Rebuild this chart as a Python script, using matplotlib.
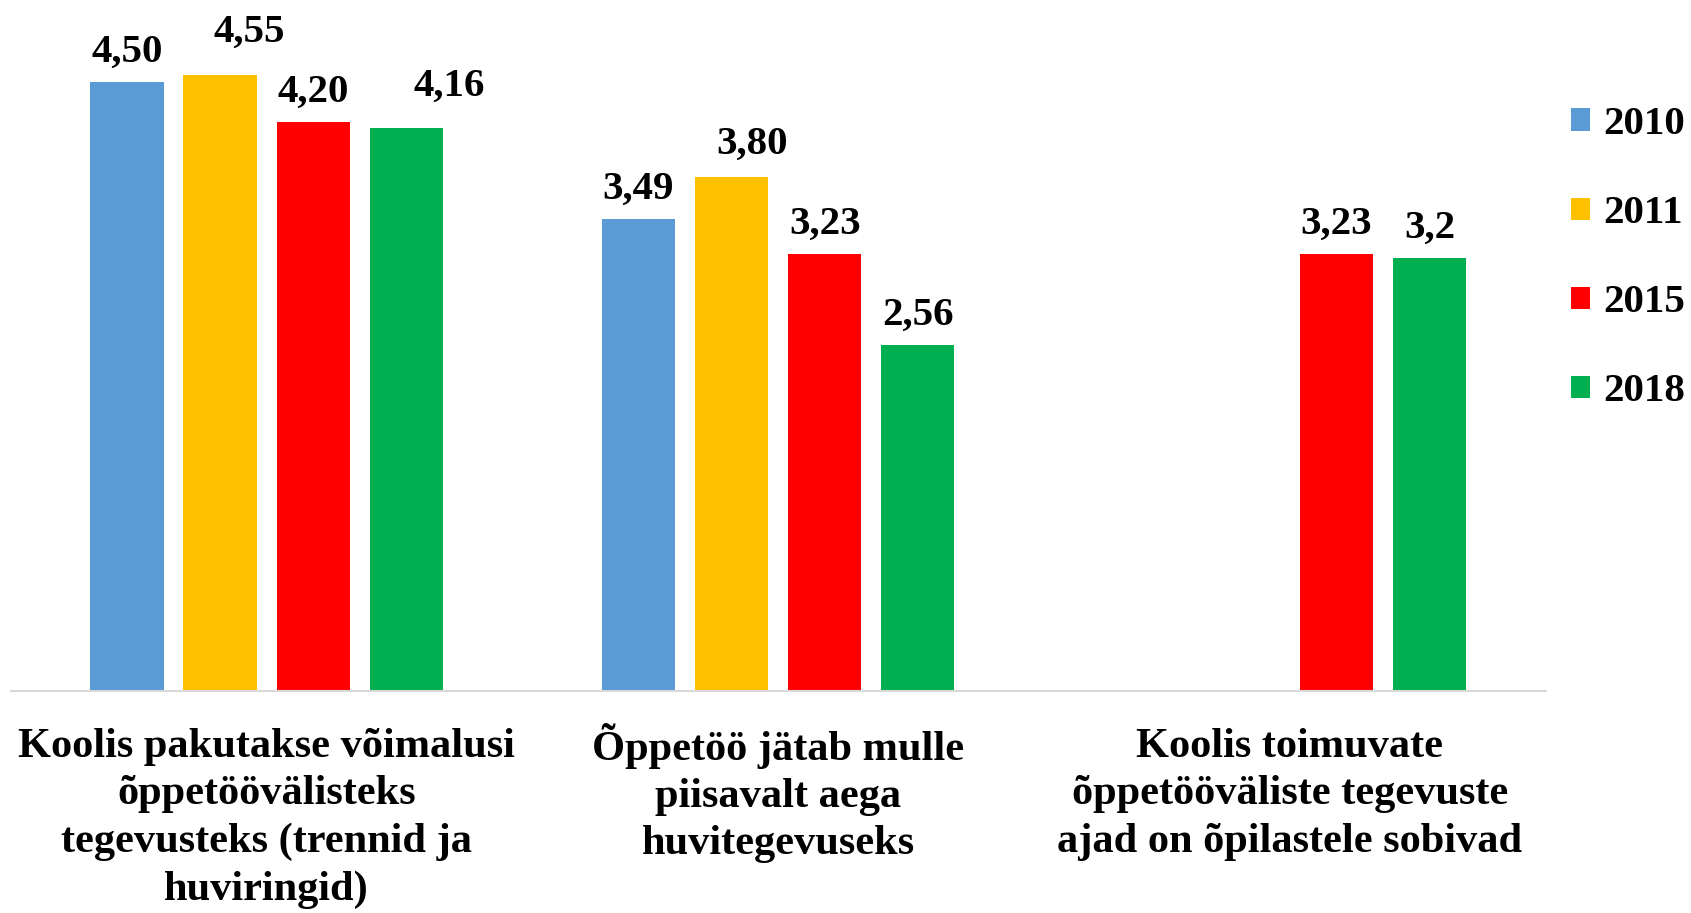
import matplotlib
matplotlib.use('Agg')
import matplotlib.pyplot as plt
import matplotlib.transforms as mtransforms
import numpy as np

plt.rcParams['font.family'] = 'Liberation Serif'
plt.rcParams['font.weight'] = 'bold'

categories = ['Koolis pakutakse võimalusi\nõppetöövälisteks\ntegevusteks (trennid ja\nhuviringid)',
              'Õppetöö jätab mulle\npiisavalt aega\nhuvitegevuseks',
              'Koolis toimuvate\nõppetööväliste tegevuste\najad on õpilastele sobivad']
years = ['2010', '2011', '2015', '2018']
v2010 = [4.50, 3.49, None]
v2011 = [4.55, 3.80, None]
v2015 = [4.20, 3.23, 3.23]
v2018 = [4.16, 2.56, 3.2]
labels2010 = ['4,50', '3,49', '']
labels2011 = ['4,55', '3,80', '']
labels2015 = ['4,20', '3,23', '3,23']
labels2018 = ['4,16', '2,56', '3,2']
colors = ['#5B9BD5', '#FFC000', '#FF0000', '#00B050']

series = [v2010, v2011, v2015, v2018]
labels = [labels2010, labels2011, labels2015, labels2018]
# labels that were dragged by hand in the original (offset in points)
moved = {(1, 0): (21, 9), (3, 0): (31, 8.5), (1, 1): (15, 2)}

fig = plt.figure(figsize=(16.91, 9.13), dpi=100)
ax = fig.add_axes([0.0064, 0.2428, 0.9076, 0.7419])

x = np.arange(len(categories))
w = 0.143
step = 0.182
fs = 29.5
for i, (vals, c, y) in enumerate(zip(series, colors, years)):
    idx = [j for j, v in enumerate(vals) if v is not None]
    xs = [x[j] + (i - 1.5) * step for j in idx]
    hs = [vals[j] for j in idx]
    bars = ax.bar(xs, hs, width=w, color=c, label=y)
    for b, j in zip(bars, idx):
        dx, dy = moved.get((i, j), (0, 0))
        ax.annotate(labels[i][j], (b.get_x() + b.get_width() / 2, b.get_height()),
                    xytext=(dx, 14.5 + dy), textcoords='offset points',
                    ha='center', va='baseline', fontsize=fs, fontweight='bold')

ax.set_xlim(-0.5, 2.5)
ax.set_ylim(0, 5)
ax.set_yticks([])
ax.set_xticks(x)
ax.set_xticklabels(categories, fontsize=30.5, fontweight='bold', linespacing=1.32)
ax.tick_params(axis='x', length=0, pad=26.5)
# the tilde on Õ pushes the second label down, lift it back to the common line
lab = ax.get_xticklabels()[1]
lab.set_transform(lab.get_transform() +
                  mtransforms.ScaledTranslation(0, 4 / 72, fig.dpi_scale_trans))
for s in ['top', 'right', 'left']:
    ax.spines[s].set_visible(False)
ax.spines['bottom'].set_color('#D9D9D9')
ax.spines['bottom'].set_linewidth(1.5)

fig.legend(loc='center left', bbox_to_anchor=(0.929, 0.717), frameon=False,
           fontsize=fs, borderpad=0, borderaxespad=0, handlelength=0.47,
           handleheight=0.47, handletextpad=0.32, labelspacing=1.27)

fig.savefig('out.png', dpi=100)
